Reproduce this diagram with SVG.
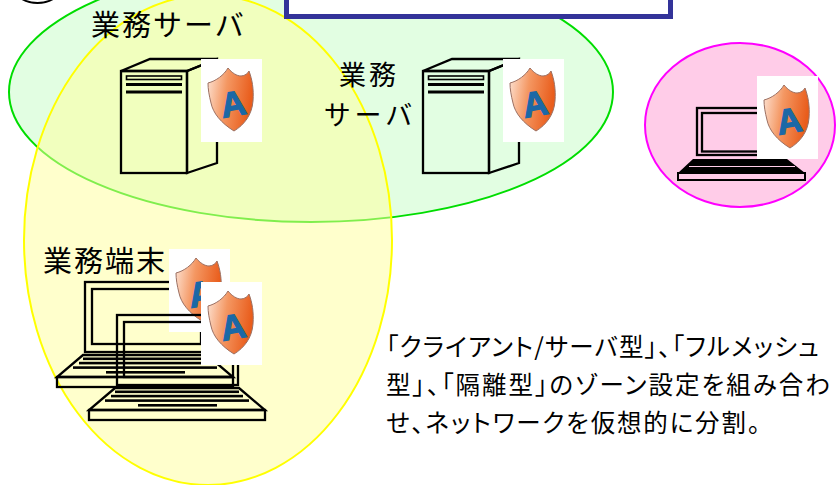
<svg xmlns="http://www.w3.org/2000/svg" xmlns:xlink="http://www.w3.org/1999/xlink" width="836" height="485" viewBox="0 0 836 485">
  <style>
    .label { font-family: "Noto Sans CJK JP", "Noto Sans", sans-serif; font-size: 29px; fill: #000; }
    .label-sm { font-family: "Noto Sans CJK JP", "Noto Sans", sans-serif; font-size: 27px; fill: #000; }
    .note { font-family: "Noto Sans CJK JP", "Noto Sans", sans-serif; font-size: 24.5px; fill: #000; font-feature-settings: "palt"; }
    .ink { fill: none; stroke: #000; stroke-width: 2.3; stroke-linejoin: miter; }
    .bar { fill: #000; }
  </style>
  <defs>
    <linearGradient id="shieldFill" x1="0" y1="0" x2="1" y2="0.2">
      <stop offset="0" stop-color="#fde3d4"/>
      <stop offset="0.45" stop-color="#f49762"/>
      <stop offset="1" stop-color="#e95d1c"/>
    </linearGradient>
    <!-- security agent badge: white card with shield and letter -->
    <g id="badge">
      <rect x="0" y="0" width="61" height="83" fill="#fff"/>
      <path d="M7,24 C15,22 23,16 27,9 C31,14 36,17 40,17 C44,17 47,14 48,12 C51,20 53,30 52,42 C51,56 43,66 33,72 C20,64 12,54 10,44 C8,36 7,30 7,24 Z" fill="url(#shieldFill)" stroke="#9c7062" stroke-width="1"/>
      <text x="32" y="57" transform="rotate(-10 32 45)" text-anchor="middle" font-family="'Liberation Sans', Arial, sans-serif" font-weight="bold" font-size="35" fill="#1b68a6" stroke="#1b68a6" stroke-width="1.2">A</text>
    </g>
    <!-- tower server, origin at the front top-left corner -->
    <g id="server">
      <polygon class="ink" points="0,0 29,-12 96,-12 66,0"/>
      <polygon class="ink" points="66,0 96,-12 96,92 66,102"/>
      <rect class="ink" x="0" y="0" width="66" height="102"/>
      <rect x="5.5" y="5" width="55" height="3.5" fill="none" stroke="#000" stroke-width="1.6"/>
      <rect class="bar" x="5" y="12" width="56" height="3"/>
      <rect class="bar" x="5" y="19.5" width="56" height="3"/>
    </g>
    <!-- notebook PC, origin at the screen top-left corner -->
    <g id="notebook">
      <rect class="ink" x="0" y="0" width="121" height="70"/>
      <rect class="ink" x="7" y="7" width="109" height="55"/>
      <polygon class="ink" points="-2,73 122,73 148,95 -28,95"/>
      <rect class="ink" x="-28" y="95" width="176" height="10"/>
      <rect class="bar" x="-2" y="75.5" width="124" height="2.6"/>
      <rect class="bar" x="-6" y="79.8" width="132" height="2.6"/>
      <rect class="bar" x="-12" y="84.3" width="144" height="2.6"/>
      <rect class="bar" x="21" y="89" width="79" height="2.6"/>
    </g>
  </defs>

  <!-- zone: servers -->
  <g id="zone-servers">
    <ellipse cx="311" cy="92" rx="302" ry="130" fill="#e2fee2" stroke="#00dd00" stroke-width="2"/>
  </g>
  <!-- zone: terminals (translucent, drawn over the server zone) -->
  <g id="zone-terminals">
    <ellipse cx="208" cy="240" rx="184" ry="245" fill="#ffff99" fill-opacity="0.5" stroke="#ffff00" stroke-width="2"/>
  </g>
  <!-- zone: isolated PC -->
  <g id="zone-isolated">
    <ellipse cx="740" cy="125" rx="95" ry="82" fill="#ffcce8" stroke="#ff00ff" stroke-width="2"/>
  </g>

  <!-- heading box and step marker, cut by the top edge -->
  <g id="heading">
    <circle cx="37.5" cy="-29" r="32" fill="none" stroke="#000" stroke-width="1.8"/>
    <rect x="286.5" y="-10" width="384" height="26.5" fill="#fff" stroke="#333399" stroke-width="5"/>
  </g>

  <g id="server-1">
    <text class="label" x="91" y="36" letter-spacing="2">業務サーバ</text>
    <use xlink:href="#server" href="#server" x="121" y="71"/>
    <use xlink:href="#badge" href="#badge" x="201" y="59"/>
  </g>

  <g id="server-2">
    <text class="label-sm" x="369" y="85" text-anchor="middle" letter-spacing="3">業務</text>
    <text class="label-sm" x="370" y="125" text-anchor="middle" letter-spacing="4">サーバ</text>
    <use xlink:href="#server" href="#server" x="423" y="71"/>
    <use xlink:href="#badge" href="#badge" x="503" y="59"/>
  </g>

  <g id="isolated-pc">
    <rect class="ink" x="697" y="108" width="88" height="47" stroke-width="2.5"/>
    <rect class="ink" x="702" y="113" width="78" height="38.5"/>
    <polygon points="693,159 787,159 805,173 678,173" fill="#000"/>
    <line x1="689" y1="166.5" x2="795" y2="166.5" stroke="#ffcce8" stroke-width="1"/>
    <rect x="678" y="173" width="127" height="7" fill="#ffcce8" stroke="#000" stroke-width="2"/>
    <use xlink:href="#badge" href="#badge" x="757" y="76"/>
  </g>

  <g id="terminals">
    <text class="label" x="43" y="272" letter-spacing="2">業務端末</text>
    <use xlink:href="#notebook" href="#notebook" x="85" y="282"/>
    <use xlink:href="#badge" href="#badge" x="169" y="249"/>
    <use xlink:href="#notebook" href="#notebook" x="117" y="315"/>
    <use xlink:href="#badge" href="#badge" x="201" y="282"/>
  </g>

  <g id="connectors"></g>

  <g id="description">
    <text class="note" x="386" y="356" textLength="433" lengthAdjust="spacing">「クライアント/サーバ型」、「フルメッシュ</text>
    <text class="note" x="386" y="394" textLength="444" lengthAdjust="spacing">型」、「隔離型」のゾーン設定を組み合わ</text>
    <text class="note" x="386" y="432" textLength="374" lengthAdjust="spacing">せ、ネットワークを仮想的に分割。</text>
  </g>
</svg>
